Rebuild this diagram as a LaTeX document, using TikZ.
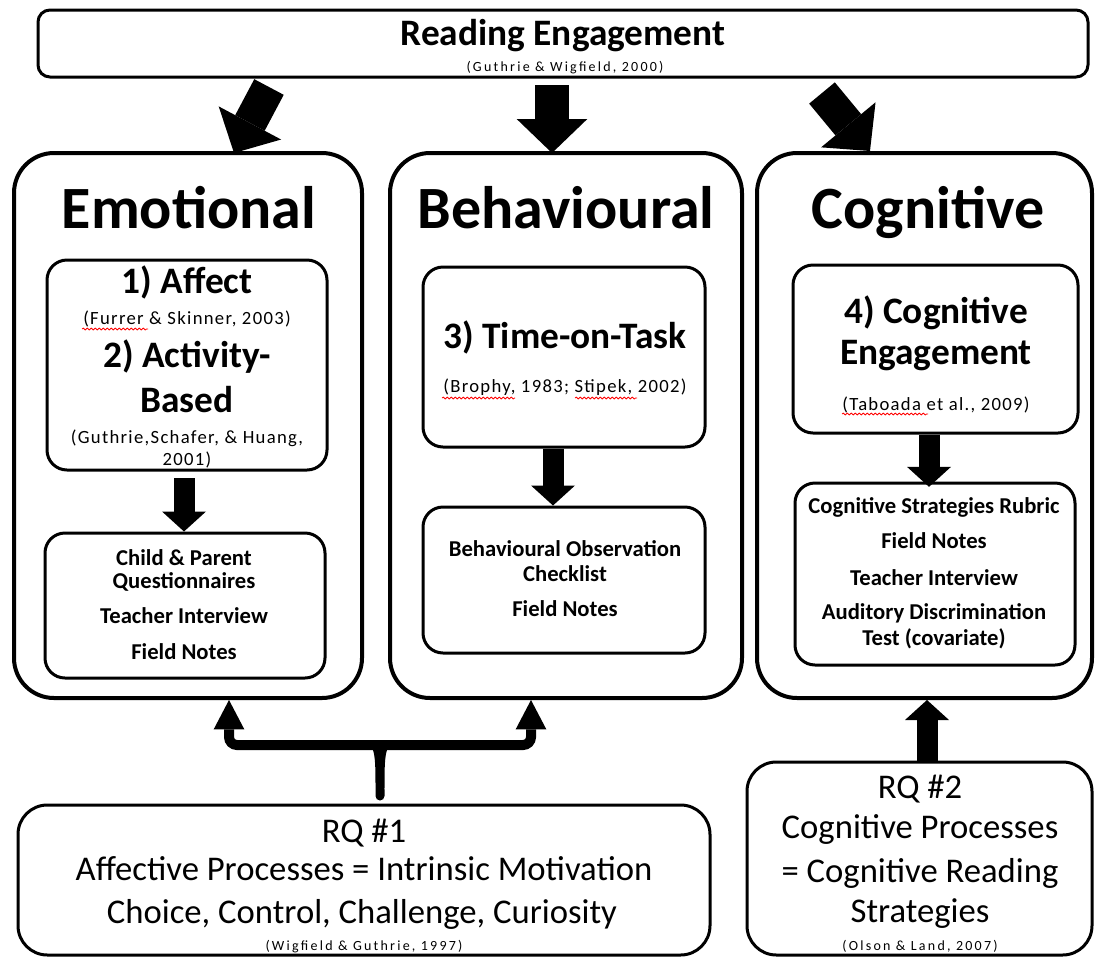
\documentclass[tikz,border=0pt]{standalone}
\usepackage{fontspec}
\setmainfont{Carlito}
\newfontfamily\citefont[LetterSpace=7]{Carlito}
\newfontfamily\tinycitefont[LetterSpace=16]{Carlito}
\usetikzlibrary{arrows.meta,fit,calc,decorations.pathmorphing}
\begin{document}
\begin{tikzpicture}[x=0.75pt,y=-0.75pt,
  outerbox/.style={draw, line width=3pt, rounded corners=30pt, inner sep=0pt},
  innerbox/.style={draw, line width=2.25pt, rounded corners=15pt, inner sep=0pt},
  topbox/.style={draw, line width=2.25pt, rounded corners=9pt, inner sep=0pt},
  rqbox/.style={draw, line width=2.25pt, rounded corners=22pt, inner sep=0pt},
  txt/.style={inner sep=0pt, align=center, anchor=base},
  titlefont/.style={txt, font=\fontsize{28}{32}\selectfont\bfseries},
  headfont/.style={txt, font=\fontsize{45}{50}\selectfont\bfseries},
  subfont/.style={txt, font=\fontsize{28}{32}\selectfont\bfseries},
  citefnt/.style={txt, font=\fontsize{14}{16}\selectfont\citefont},
  tinyfnt/.style={txt, font=\fontsize{10.5}{12}\selectfont\tinycitefont},
  itemfont/.style={txt, font=\fontsize{17}{20}\selectfont\bfseries},
  rqfont/.style={txt, font=\fontsize{26}{30}\selectfont},
  bigarrow/.style={line width=25pt, -{Triangle[length=25.5pt,width=53pt,line width=0pt]}},
  smallarrow/.style={line width=15.75pt, -{Triangle[length=15pt,width=33pt,line width=0pt]}},
  bracearrow/.style={line width=7.5pt, rounded corners=6pt, {Triangle[length=22pt,width=23pt,line width=0pt]}-{Triangle[length=22pt,width=23pt,line width=0pt]}},
  squiggle/.style={red, line width=0.6pt, decorate, decoration={snake, segment length=3pt, amplitude=0.7pt}},
]
\useasboundingbox (0,0) rectangle (1101,958);
\fill[white] (0,0) rectangle (1101,958);

% ---------- top box ----------
\node[topbox, fit={(38,10) (1088,77)}] (top) {};
\node[titlefont] (tTitle) at (563,45) {Reading Engagement};
\node[tinyfnt] (tCite) at (565,71) {(Guthrie \& Wigfield, 2000)};

% ---------- three outer boxes ----------
\node[outerbox, fit={(14,153) (362,698)}] (emo) {};
\node[outerbox, fit={(390,153) (742,698)}] (beh) {};
\node[outerbox, fit={(757,153) (1092,698)}] (cog) {};
\node[headfont] (emoH) at (189,228) {Emotional};
\node[headfont] (behH) at (566,228) {Behavioural};
\node[headfont] (cogH) at (928,228) {Cognitive};

% ---------- top arrows ----------
\coordinate (a1s) at (269,87);  \coordinate (a1e) at (234,153);
\coordinate (a2s) at (552,85);  \coordinate (a2e) at (552,153);
\coordinate (a3s) at (822,93);  \coordinate (a3e) at (870,151);
\draw[bigarrow] (a1s) -- (a1e);
\draw[bigarrow] (a2s) -- (a2e);
\draw[bigarrow] (a3s) -- (a3e);

% ---------- emotional ----------
\node[innerbox, fit={(47,260) (327,470)}] (emoIn) {};
\node[subfont] (e1) at (187,293) {1) Affect};
\node[citefnt] (e2) at (187,324) {(Furrer \& Skinner, 2003)};
\node[subfont] (e3) at (187,367) {2) Activity-};
\node[subfont] (e4) at (187,412) {Based};
\node[citefnt] (e5) at (187,443) {(Guthrie,Schafer, \& Huang,};
\node[citefnt] (e6) at (187,465) {2001)};
\node[innerbox, fit={(45,533) (325,678)}] (emoLo) {};
\node[itemfont] (e7) at (184,565) {Child \& Parent};
\node[itemfont] (e8) at (184,588) {Questionnaires};
\node[itemfont] (e9) at (184,623) {Teacher Interview};
\node[itemfont] (e10) at (184,659) {Field Notes};
\coordinate (ex) at (184,0);
\draw[smallarrow, shorten <=5pt] (emoIn.south -| ex) -- (emoLo.north -| ex);

% ---------- behavioural ----------
\node[innerbox, fit={(423,267) (705,447)}] (behIn) {};
\node[subfont] (b1) at (565,348) {3) Time-on-Task};
\node[citefnt] (b2) at (565,392) {(Brophy, 1983; Stipek, 2002)};
\node[innerbox, fit={(423,507) (705,653)}] (behLo) {};
\node[itemfont] (b3) at (565,556) {Behavioural Observation};
\node[itemfont] (b4) at (565,581) {Checklist};
\node[itemfont] (b5) at (565,616) {Field Notes};
\coordinate (bx) at (553,0);
\draw[smallarrow] (behIn.south -| bx) -- (behLo.north -| bx);

% ---------- cognitive ----------
\node[innerbox, fit={(793,265) (1078,433)}] (cogIn) {};
\node[subfont] (c1) at (936,323) {4) Cognitive};
\node[subfont] (c2) at (936,364) {Engagement};
\node[citefnt] (c3) at (936,410) {(Taboada et al., 2009)};
\node[innerbox, fit={(795,483) (1075,665)}] (cogLo) {};
\node[itemfont] (c4) at (934,513) {Cognitive Strategies Rubric};
\node[itemfont] (c5) at (934,548) {Field Notes};
\node[itemfont] (c6) at (934,585) {Teacher Interview};
\node[itemfont] (c7) at (934,619) {Auditory Discrimination};
\node[itemfont] (c8) at (934,645) {Test (covariate)};
\coordinate (cx) at (929,0);
\draw[smallarrow] (cogIn.south -| cx) -- ([yshift=-4pt]cogLo.north -| cx);

% ---------- RQ #1 ----------
\node[rqbox, fit={(18,805) (710,955)}] (rq1) {};
\node[rqfont] (r1) at (364,842) {RQ \#1};
\node[rqfont] (r2) at (364,880) {Affective Processes = Intrinsic Motivation};
\node[rqfont] (r3) at (362,923) {Choice, Control, Challenge, Curiosity};
\node[tinyfnt] (r4) at (364,950) {(Wigfield \& Guthrie, 1997)};

% brace connector
\coordinate (bl) at (229,745);
\coordinate (br) at (531,745);
\draw[bracearrow] (emo.south -| bl) -- (bl) -- (br) -- (beh.south -| br);
\fill (364,741) .. controls (376,744) and (375.5,758) .. (375.5,796)
      arc[start angle=180, end angle=0, radius=4.5]
      .. controls (384.5,758) and (384,744) .. (396,741) -- cycle;

% ---------- RQ #2 ----------
\node[rqbox, fit={(747,762) (1092,955)}] (rq2) {};
\node[rqfont] (q1) at (920,798) {RQ \#2};
\node[rqfont] (q2) at (920,838) {Cognitive Processes};
\node[rqfont] (q3) at (920,882) {= Cognitive Reading};
\node[rqfont] (q4) at (920,922) {Strategies};
\node[tinyfnt] (q5) at (920,950) {(Olson \& Land, 2007)};
\coordinate (ux) at (927,0);
\draw[smallarrow] (rq2.north -| ux) -- (cog.south -| ux);

% ---------- spell-check squiggles ----------
\draw[squiggle] (82,329) -- (148,329);
\draw[squiggle] (442,398) -- (515,398);
\draw[squiggle] (575,398) -- (637,398);
\draw[squiggle] (842,414) -- (928,414);
\end{tikzpicture}
\end{document}
